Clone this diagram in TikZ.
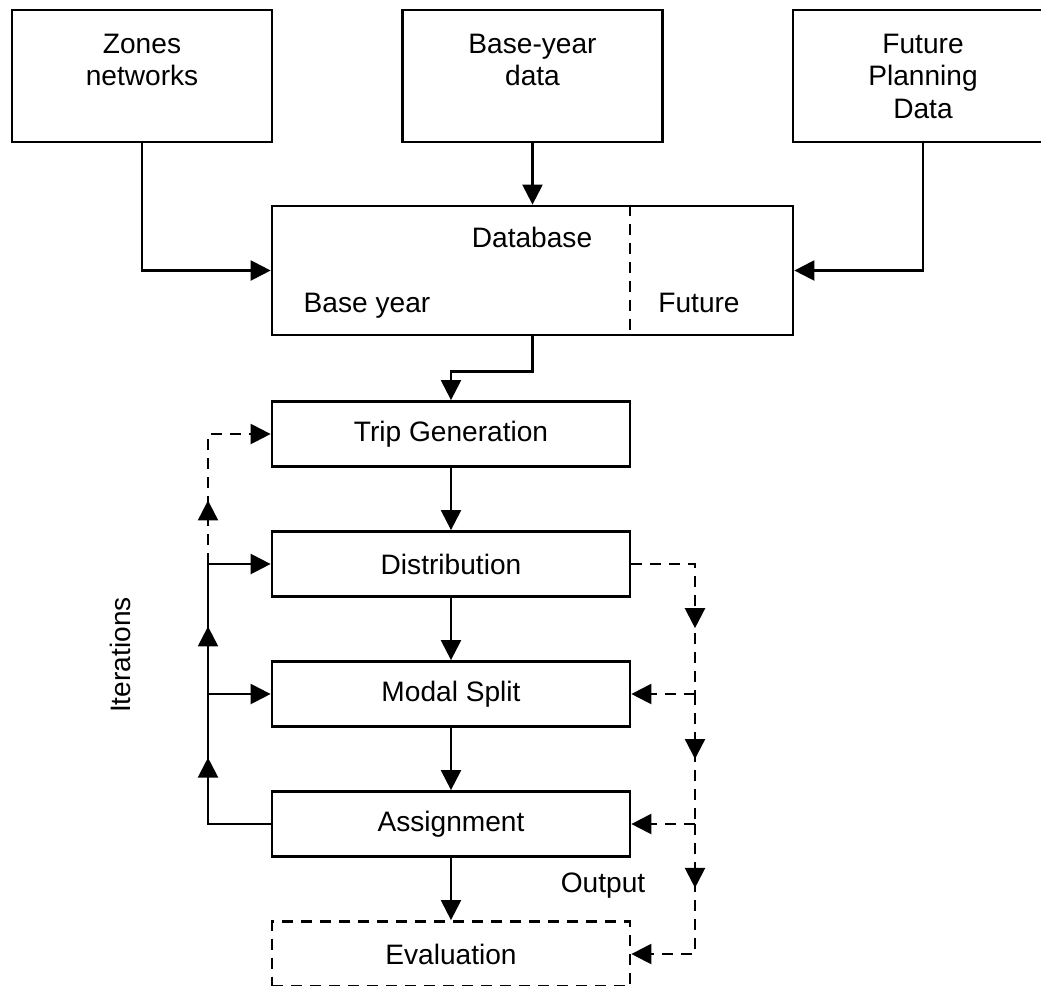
\documentclass[tikz,border=0pt]{standalone}
\usepackage{fontspec}
\setmainfont{Liberation Sans}
\usetikzlibrary{arrows.meta, decorations.markings, positioning}

\tikzset{
  box/.style={rectangle, draw, line width=1.6pt, align=center, inner sep=0pt},
  topbox/.style={box, minimum width=5.2cm, minimum height=2.64cm},
  stage/.style={box, minimum width=7.16cm, minimum height=1.3cm},
  link/.style={line width=1.3pt},
  tip/.style={-{Triangle[length=0.4cm, width=0.4cm]}},
  dashlink/.style={dash pattern=on 0.22cm off 0.16cm},
  midtip/.style={postaction={decorate}, decoration={markings,
      mark=at position #1 with {\arrow{Triangle[length=0.4cm, width=0.4cm]}}}}
}

\begin{document}
\begin{tikzpicture}[x=0.02cm, y=-0.02cm, font=\fontsize{16}{18.5}\selectfont]
        \useasboundingbox (0,0) rectangle (1041,985);

        \node[topbox] (zn) at (142,76) {Zones\\networks\\~};
        \node[topbox] (byd) at (532.5,76) {Base-year\\data\\~};
        \node[topbox] (fpd) at (923,76) {Future\\Planning\\Data};

        \node[box, minimum width=10.42cm, minimum height=2.58cm] (db) at (532.5,270.5) {};
        \node (dbn) at (532,237) {Database};
        \node[anchor=base] (dbb) at (367,312) {Base year};
        \node[anchor=base] (dbf) at (699,312) {Future};
        \coordinate (sep) at (630,270);
        \draw[link, dashlink] (sep |- db.north) -- (sep |- db.south);

        \node[stage] (tg) at (451,434) {Trip Generation};
        \node[stage] (ds) at (451,564) {Distribution};
        \node[stage] (ms) at (451,694) {Modal Split};
        \node[stage] (asg) at (451,824) {Assignment};
        \node[stage, dashlink] (ev) at (451,954) {Evaluation};

        \node[rotate=90] (it) at (120,655) {Iterations};
        \node (out) at (603,886) {Output};

        \coordinate (lx) at (208,0);
        \coordinate (rx) at (695,0);

        \draw[link, tip] (zn.south) |- (db.west);
        \draw[link, tip] (byd.south) -- (db.north);
        \draw[link, tip] (fpd.south) |- (db.east);
        \draw[link, tip] (db.south) -- ++(0,35) -| (tg.north);

        \draw[link, tip] (tg) -- (ds);
        \draw[link, tip] (ds) -- (ms);
        \draw[link, tip] (ms) -- (asg);
        \draw[link, tip] (asg) -- (ev);

        \draw[link, midtip=0.67] (asg.west) -| (ms.west -| lx);
        \draw[link, tip] (ms.west -| lx) -- (ms.west);
        \draw[link, midtip=0.52] (ms.west -| lx) -- (ds.west -| lx);
        \draw[link, tip] (ds.west -| lx) -- (ds.west);
        \draw[link, dashlink, tip, midtip=0.33] (ds.west -| lx) |- (tg.west);

        \draw[link, dashlink, midtip=0.66] (ds.east) -| (ms.east -| rx);
        \draw[link, dashlink, midtip=0.5] (ms.east -| rx) -- (asg.east -| rx);
        \draw[link, dashlink, tip, midtip=0.33] (asg.east -| rx) |- (ev.east);
        \draw[link, dashlink, tip] (ms.east -| rx) -- (ms.east);
        \draw[link, dashlink, tip] (asg.east -| rx) -- (asg.east);
    \end{tikzpicture}
\end{document}
